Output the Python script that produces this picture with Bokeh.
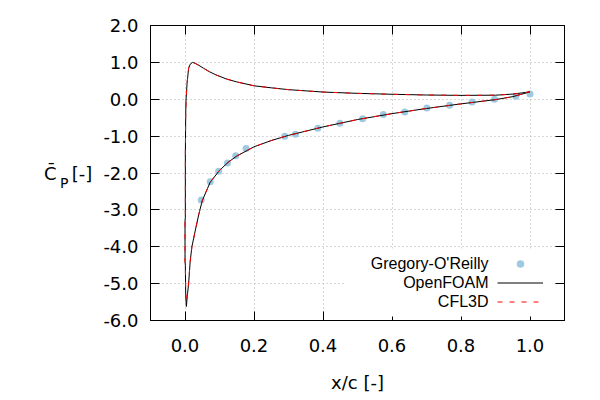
from bokeh.plotting import figure
from bokeh.models import (FixedTicker, LinearAxis, Range1d, Label, Legend,
                          LegendItem, BoxAnnotation)
from bokeh.embed import file_html
from bokeh.resources import INLINE

# ---------------- data ----------------
exp_x = [0.047, 0.073, 0.0975, 0.123, 0.147, 0.177, 0.289, 0.32, 0.385,
         0.449, 0.515, 0.575, 0.637, 0.701, 0.767, 0.832, 0.897, 0.959, 1.0]
exp_cp = [-2.73, -2.24, -1.95, -1.73, -1.53, -1.335, -1.0, -0.95, -0.785,
          -0.65, -0.53, -0.415, -0.343, -0.235, -0.163, -0.073, 0.0, 0.08, 0.143]

of_x = [1.0, 0.95, 0.9, 0.8, 0.7, 0.6, 0.5, 0.4, 0.3, 0.25, 0.2, 0.15, 0.12,
        0.09, 0.07, 0.054, 0.04, 0.03, 0.022, 0.015, 0.0105, 0.006, 0.003,
        0.002, 0.001, 0.001, 0.0, 0.0, 0.001, 0.002, 0.004, 0.0065, 0.0105,
        0.015, 0.02, 0.03, 0.04, 0.05, 0.073, 0.1, 0.125, 0.15, 0.2, 0.25,
        0.3, 0.4, 0.5, 0.6, 0.7, 0.8, 0.9, 0.95, 1.0]
of_cp = [0.2, 0.14, 0.11, 0.105, 0.115, 0.135, 0.16, 0.195, 0.26, 0.31, 0.365,
         0.47, 0.55, 0.66, 0.75, 0.84, 0.92, 0.97, 1.0, 0.95, 0.84, 0.43, -0.02,
         -0.47, -1.5, -3.2, -3.3, -4.4, -4.5, -5.3, -5.62, -5.35, -5.0, -4.4,
         -4.0, -3.55, -3.12, -2.75, -2.25, -1.93, -1.71, -1.54, -1.29, -1.12,
         -0.98, -0.75, -0.55, -0.39, -0.25, -0.125, -0.01, 0.07, 0.2]

cfl_x = [1.0, 0.95, 0.9, 0.8, 0.7, 0.6, 0.5, 0.4, 0.3, 0.25, 0.2, 0.15, 0.12,
         0.09, 0.07, 0.054, 0.04, 0.03, 0.022, 0.015, 0.0105, 0.006, 0.003,
         0.002, 0.001, 0.001, 0.0, 0.0, 0.001, 0.002, 0.003, 0.0065, 0.0105,
         0.015, 0.02, 0.03, 0.04, 0.05, 0.073, 0.1, 0.125, 0.15, 0.2, 0.25,
         0.3, 0.4, 0.5, 0.6, 0.7, 0.8, 0.9, 0.95, 1.0]
cfl_cp = [0.2, 0.14, 0.11, 0.105, 0.115, 0.135, 0.16, 0.195, 0.26, 0.31, 0.365,
          0.47, 0.55, 0.66, 0.75, 0.84, 0.92, 0.97, 1.0, 0.95, 0.84, 0.43, -0.02,
          -0.47, -1.5, -3.2, -3.3, -4.4, -4.5, -5.2, -5.5, -5.3, -4.98, -4.4,
          -4.0, -3.55, -3.12, -2.75, -2.25, -1.93, -1.71, -1.54, -1.29, -1.12,
          -0.98, -0.75, -0.55, -0.39, -0.25, -0.125, -0.01, 0.07, 0.2]

x_ticks = [0.0, 0.2, 0.4, 0.6, 0.8, 1.0]
x_tick_labels = ["0.0", "0.2", "0.4", "0.6", "0.8", "1.0"]
y_ticks = [2, 1, 0, -1, -2, -3, -4, -5, -6]
y_tick_labels = ["2.0", "1.0", "0.0", "-1.0", "-2.0", "-3.0", "-4.0", "-5.0", "-6.0"]

series_names = ["Gregory-O'Reilly", "OpenFOAM", "CFL3D"]
x_title = "x/c [-]"
y_title_parts = ["[-]", "\nP", "C\u0304"]   # unit, subscript (lowered), symbol

TICK_FONT = "DejaVu Sans"
LEG_FONT = "Liberation Sans"

# ---------------- figure ----------------
p = figure(width=600, height=400, output_backend="svg", toolbar_location=None,
           x_range=Range1d(-0.1, 1.1), y_range=Range1d(-6, 2),
           min_border_left=150, min_border_right=36, min_border_top=25,
           min_border_bottom=80)
p.background_fill_color = "white"
p.border_fill_color = "white"
p.outline_line_color = "black"
p.outline_line_width = 1
p.outline_line_alpha = 1

xt = FixedTicker(ticks=x_ticks)
yt = FixedTicker(ticks=y_ticks)

for ax, t, labs in ((p.xaxis[0], xt, x_tick_labels), (p.yaxis[0], yt, y_tick_labels)):
    ax.ticker = t
    ax.major_label_overrides = dict(zip(t.ticks, labs))
    ax.major_label_text_font = TICK_FONT
    ax.major_label_text_font_size = "18px"
    ax.major_label_text_color = "black"
    ax.major_tick_in = 9
    ax.major_tick_out = 0
    ax.major_tick_line_color = "black"
    ax.minor_tick_line_color = None
    ax.axis_line_color = "black"

p.xaxis[0].major_label_standoff = 18
p.xaxis[0].axis_label = x_title
p.xaxis[0].axis_label_text_font = TICK_FONT
p.xaxis[0].axis_label_text_font_size = "18px"
p.xaxis[0].axis_label_text_font_style = "normal"
p.xaxis[0].axis_label_text_color = "black"
p.xaxis[0].axis_label_standoff = 17

# y title: built from horizontal axis labels stacked to the left
ya = p.yaxis[0]
ya.major_label_standoff = 12
ya.axis_label = y_title_parts[0]
ya.axis_label_orientation = "horizontal"
ya.axis_label_text_font = TICK_FONT
ya.axis_label_text_font_size = "18px"
ya.axis_label_text_font_style = "normal"
ya.axis_label_text_color = "black"
ya.axis_label_standoff = 8

for txt, size, standoff in ((y_title_parts[1], "14px", 0),
                            (y_title_parts[2], "18px", 1)):
    extra = LinearAxis(ticker=FixedTicker(ticks=[]), axis_label=txt,
                       axis_label_orientation="horizontal",
                       axis_label_text_font=TICK_FONT,
                       axis_label_text_font_size=size,
                       axis_label_text_font_style="normal",
                       axis_label_text_color="black",
                       axis_label_standoff=standoff,
                       major_label_standoff=0, major_tick_in=0, major_tick_out=0,
                       major_tick_line_color=None, minor_tick_line_color=None,
                       axis_line_color=None)
    p.add_layout(extra, "left")

# mirror ticks on top and right
for loc, t in (("above", x_ticks), ("right", y_ticks)):
    m = LinearAxis(ticker=FixedTicker(ticks=t),
                   major_label_overrides={v: "" for v in t},
                   major_label_text_font_size="1px", major_label_standoff=0,
                   major_tick_in=9, major_tick_out=0,
                   major_tick_line_color="black", minor_tick_line_color=None,
                   axis_line_color="black")
    p.add_layout(m, loc)

for g, t in ((p.xgrid[0], xt), (p.ygrid[0], yt)):
    g.ticker = t
    g.grid_line_color = "#b0b0b0"
    g.grid_line_dash = "1 3"
    g.grid_line_width = 1

# ---------------- data glyphs ----------------
r_exp = p.scatter(exp_x, exp_cp, size=7, fill_color="#9ecae1", line_color=None)
r_of = p.line(of_x, of_cp, line_color="black", line_width=1)
r_cfl = p.line(cfl_x, cfl_cp, line_color="red", line_width=1, line_dash="5 7")

# ---------------- key ----------------
key_bg = BoxAnnotation(left=194, right=404, bottom=4, top=72,
                       left_units="screen", right_units="screen",
                       bottom_units="screen", top_units="screen",
                       fill_color="white", fill_alpha=1, line_color=None)
p.add_layout(key_bg)

legend = Legend(items=[LegendItem(label=" ", renderers=[r]) for r in (r_exp, r_of, r_cfl)],
                location="bottom_right", margin=9, padding=0, spacing=0,
                glyph_width=46, glyph_height=19, label_width=12, label_standoff=0,
                label_height=19, label_text_font_size="1px",
                border_line_color=None, background_fill_alpha=0)
p.add_layout(legend)

for i, name in enumerate(series_names):
    p.add_layout(Label(x=338, y=57 - i * 19.2, x_units="screen", y_units="screen",
                       text=name, text_align="right", text_baseline="alphabetic",
                       text_font=LEG_FONT, text_font_size="16px", text_color="black"))

open("out.html", "w").write(file_html(p, INLINE))
